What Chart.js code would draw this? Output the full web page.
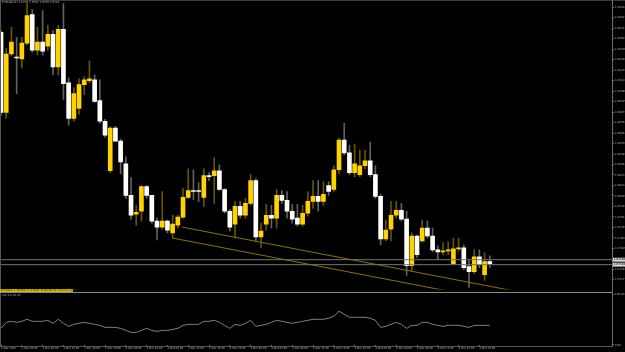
<!DOCTYPE html>
<html>
<head>
<meta charset="utf-8">
<script src="https://cdn.jsdelivr.net/npm/chart.js@4.4.1/dist/chart.umd.min.js"></script>
<style>
  html, body { margin: 0; padding: 0; background: #000; }
  body { width: 625px; height: 352px; position: relative; overflow: hidden; font-family: "DejaVu Sans", sans-serif; }
  canvas { position: absolute; left: 0; }
  #main { top: 0; }
  #ind { top: 292px; }
  .ln { position: absolute; background: #6c6c6c; }
  .txt { position: absolute; white-space: nowrap; line-height: 1; font-size: 6px; transform-origin: 0 0; }
</style>
</head>
<body>
<canvas id="main" width="625" height="292"></canvas>
<canvas id="ind" width="625" height="60"></canvas>

<div class="ln" style="left:0; top:0; width:625px; height:1px; background:#3c3c3c;"></div>
<div class="ln" style="left:0; top:0; width:1px; height:346px; background:#555;"></div>
<div class="ln" style="left:612px; top:0; width:1px; height:347px;"></div>
<div class="ln" style="left:0; top:292px; width:612px; height:1px; background:#8a8a8a;"></div>
<div class="ln" style="left:0; top:346px; width:613px; height:1px; background:#555;"></div>

<div class="txt" style="left:2px; top:1px; color:#bdbdbd; transform:scale(0.45);">EURUSD,H1 1.0736 1.0742 1.0730 1.0734</div>
<div style="position:absolute; left:0; top:289px; width:73px; height:3px; background:#d9b600;"></div>
<div class="txt" style="left:1px; top:289px; color:#3a3000; transform:scale(0.45);">Trendline 1.07710 / 1.07600 &nbsp;EURUSD H1 channel support</div>
<div class="txt" style="left:2px; top:294px; color:#a8a8a8; transform:scale(0.45);">RSI(14) 39.00</div>

<script>
// candles, one per hour
const open = [1.0968,1.0887,1.0946,1.0943,1.0941,1.0957,1.0986,1.0950,1.0958,1.0954,
  1.0966,1.0933,1.0971,1.0917,1.0881,1.0891,1.0915,1.0919,1.0920,1.0899,
  1.0878,1.0828,1.0871,1.0858,1.0835,1.0803,1.0784,1.0787,1.0812,1.0803,
  1.0777,1.0771,1.0777,1.0765,1.0773,1.0781,1.0801,1.0808,1.0808,1.0801,
  1.0823,1.0823,1.0828,1.0809,1.0787,1.0774,1.0792,1.0783,1.0795,1.0818,
  1.0761,1.0774,1.0783,1.0780,1.0803,1.0798,1.0787,1.0780,1.0774,1.0785,
  1.0797,1.0802,1.0797,1.0813,1.0809,1.0829,1.0859,1.0846,1.0826,1.0824,
  1.0833,1.0838,1.0824,1.0802,1.0759,1.0769,1.0783,1.0788,1.0779,1.0732,
  1.0762,1.0757,1.0770,1.0762,1.0748,1.0746,1.0747,1.0734,1.0749,1.0750,
  1.0731,1.0726,1.0741,1.0723,1.0736];
const close = [1.0887,1.0946,1.0958,1.0942,1.0957,1.0985,1.0950,1.0958,1.0949,1.0966,
  1.0933,1.0971,1.0916,1.0881,1.0906,1.0915,1.0920,1.0921,1.0898,1.0878,
  1.0864,1.0871,1.0858,1.0837,1.0803,1.0783,1.0786,1.0812,1.0803,1.0777,
  1.0771,1.0777,1.0768,1.0774,1.0781,1.0801,1.0808,1.0807,1.0807,1.0823,
  1.0822,1.0828,1.0809,1.0787,1.0771,1.0792,1.0783,1.0795,1.0818,1.0761,
  1.0767,1.0783,1.0780,1.0803,1.0798,1.0787,1.0779,1.0774,1.0785,1.0797,
  1.0802,1.0797,1.0804,1.0807,1.0829,1.0859,1.0846,1.0826,1.0835,1.0833,
  1.0838,1.0824,1.0802,1.0759,1.0768,1.0783,1.0788,1.0779,1.0732,1.0762,
  1.0743,1.0770,1.0762,1.0748,1.0746,1.0747,1.0748,1.0749,1.0750,1.0730,
  1.0726,1.0741,1.0733,1.0736,1.0734];
const high = [1.0970,1.0952,1.0973,1.0963,1.0963,1.0997,1.0991,1.0973,1.0990,1.0975,
  1.0970,1.0975,1.0997,1.0922,1.0912,1.0921,1.0923,1.0939,1.0925,1.0920,
  1.0880,1.0873,1.0873,1.0860,1.0842,1.0821,1.0793,1.0813,1.0813,1.0803,
  1.0780,1.0807,1.0778,1.0783,1.0783,1.0810,1.0830,1.0829,1.0816,1.0830,
  1.0826,1.0841,1.0834,1.0810,1.0789,1.0797,1.0797,1.0800,1.0824,1.0820,
  1.0775,1.0794,1.0793,1.0809,1.0808,1.0807,1.0794,1.0794,1.0793,1.0807,
  1.0818,1.0818,1.0817,1.0817,1.0833,1.0861,1.0876,1.0854,1.0855,1.0849,
  1.0849,1.0857,1.0833,1.0804,1.0778,1.0797,1.0797,1.0795,1.0787,1.0765,
  1.0763,1.0778,1.0777,1.0770,1.0752,1.0755,1.0756,1.0760,1.0760,1.0753,
  1.0737,1.0748,1.0748,1.0745,1.0742];
const low = [1.0884,1.0881,1.0944,1.0906,1.0932,1.0955,1.0948,1.0945,1.0945,1.0950,
  1.0925,1.0925,1.0900,1.0874,1.0878,1.0885,1.0905,1.0917,1.0897,1.0876,
  1.0862,1.0826,1.0858,1.0825,1.0800,1.0779,1.0773,1.0777,1.0800,1.0775,
  1.0758,1.0769,1.0765,1.0760,1.0770,1.0780,1.0800,1.0799,1.0797,1.0792,
  1.0818,1.0795,1.0808,1.0785,1.0767,1.0760,1.0780,1.0780,1.0793,1.0757,
  1.0750,1.0768,1.0770,1.0770,1.0795,1.0780,1.0775,1.0772,1.0772,1.0782,
  1.0790,1.0787,1.0793,1.0803,1.0807,1.0825,1.0844,1.0824,1.0822,1.0822,
  1.0830,1.0822,1.0800,1.0753,1.0757,1.0757,1.0780,1.0777,1.0722,1.0727,
  1.0740,1.0756,1.0760,1.0746,1.0738,1.0743,1.0743,1.0733,1.0747,1.0728,
  1.0710,1.0724,1.0730,1.0717,1.0730];

// RSI sub window
const rsi = [33,45,47,45,47,51,47,47,47,49,
  43,51,43,37,41,43,45,43,41,39,
  35,35,35,33,29,25,25,29,33,29,
  27,29,29,31,33,39,41,41,41,47,
  47,49,45,39,33,41,39,43,49,37,
  39,41,45,49,47,45,43,45,47,49,
  51,51,51,53,57,67,61,55,55,55,
  55,53,49,35,37,41,45,41,33,39,
  39,45,45,41,39,37,39,39,39,37,
  35,39,39,39,39];

// channel lines (bar index, price) and bid/ask lines
const trendUpper = [[34.8, 1.0771], [105, 1.0700]];
const trendLower = [[32.9, 1.0760], [105, 1.0687]];
const priceLines = [1.0738, 1.0733];

const priceTicks = [1.09933,1.09827,1.09721,1.09615,1.09509,1.09403,1.09297,1.09191,1.09085,
  1.08979,1.08873,1.08767,1.08661,1.08555,1.08449,1.08343,1.08237,1.08131,1.08025,
  1.07919,1.07813,1.07707,1.07601,1.07495,1.07389,1.07283,1.07177];
const rsiTicks = [100, 0];

const timeTickIdx = [0,4,8,12,16,20,24,28,32,36,40,44,48,52,56,60,64,68,72,76,80,84,88,92];
const timeLabels = ["1 Mar 2018","1 Mar 04:00","1 Mar 08:00","1 Mar 12:00","1 Mar 16:00","1 Mar 20:00",
  "2 Mar 00:00","2 Mar 04:00","2 Mar 08:00","2 Mar 12:00","2 Mar 16:00","2 Mar 20:00",
  "5 Mar 00:00","5 Mar 04:00","5 Mar 08:00","5 Mar 12:00","5 Mar 16:00","5 Mar 20:00",
  "6 Mar 00:00","6 Mar 04:00","6 Mar 08:00","6 Mar 12:00","6 Mar 16:00","6 Mar 20:00"];

const bullColor = "#ffd200";
const bearColor = "#ffffff";
const bullWick = "#665500";
const bearWick = "#626262";

const isBull = open.map((o, i) => close[i] > o);
const xMin = -0.2, xMax = 117.5;
const tickFont = { family: "DejaVu Sans", size: 2.7 };

const priceTags = {
  id: "priceTags",
  afterDraw(chart) {
    const { ctx } = chart;
    const y = chart.scales.y;
    ctx.save();
    ctx.font = '2.7px "DejaVu Sans"';
    ctx.textBaseline = "middle";
    priceLines.forEach(p => {
      const py = y.getPixelForValue(p);
      ctx.fillStyle = "#d2d2d2";
      ctx.fillRect(613, py - 2, 12, 4);
      ctx.fillStyle = "#000";
      ctx.fillText(p.toFixed(5), 614, py);
    });
    ctx.restore();
  }
};

const lineSet = (pts, color, order) => ({
  type: "line",
  data: pts.map(p => ({ x: p[0], y: p[1] })),
  borderColor: color,
  borderWidth: 1,
  pointRadius: 0,
  order: order
});

new Chart(document.getElementById("main"), {
  type: "bar",
  data: {
    datasets: [
      lineSet([[xMin, priceLines[0]], [xMax, priceLines[0]]], "#737373", 0),
      lineSet([[xMin, priceLines[1]], [xMax, priceLines[1]]], "#737373", 0),
      lineSet(trendUpper, "#8c7300", 0),
      lineSet(trendLower, "#8c7300", 0),
      {
        data: open.map((o, i) => ({ x: i, y: [o, close[i]] })),
        backgroundColor: isBull.map(b => b ? bullColor : bearColor),
        barThickness: 4,
        grouped: false,
        order: 1
      },
      {
        data: open.map((o, i) => ({ x: i, y: [low[i], high[i]] })),
        backgroundColor: isBull.map(b => b ? bullWick : bearWick),
        barThickness: 1,
        grouped: false,
        order: 2
      }
    ]
  },
  options: {
    responsive: false,
    animation: false,
    events: [],
    layout: { padding: { top: 2, left: 0, right: 0, bottom: 0 } },
    plugins: { legend: { display: false }, tooltip: { enabled: false } },
    scales: {
      x: { type: "linear", min: xMin, max: xMax, offset: false, display: false },
      y: {
        type: "linear",
        position: "right",
        min: 1.0708,
        max: 1.0998,
        afterFit: s => { s.width = 13; },
        afterBuildTicks: s => { s.ticks = priceTicks.map(v => ({ value: v })); },
        ticks: { color: "#b4b4b4", font: tickFont, padding: 1, autoSkip: false, callback: v => v.toFixed(5) },
        grid: { drawOnChartArea: false, drawTicks: true, tickLength: 2, color: "#777" },
        border: { display: false }
      }
    }
  },
  plugins: [priceTags]
});

new Chart(document.getElementById("ind"), {
  type: "line",
  data: {
    datasets: [{
      data: rsi.map((v, i) => ({ x: i, y: v })),
      borderColor: "#808080",
      borderWidth: 1,
      pointRadius: 0,
      tension: 0
    }]
  },
  options: {
    responsive: false,
    animation: false,
    events: [],
    layout: { padding: { top: 2, left: 0, right: 0, bottom: 0 } },
    plugins: { legend: { display: false }, tooltip: { enabled: false } },
    scales: {
      x: {
        type: "linear",
        min: xMin,
        max: xMax,
        afterFit: s => { s.height = 7; },
        afterBuildTicks: s => { s.ticks = timeTickIdx.map(v => ({ value: v })); },
        ticks: { color: "#b4b4b4", font: { family: "DejaVu Sans", size: 2.6 }, padding: 0, align: "start", maxRotation: 0, autoSkip: false, callback: (v, i) => timeLabels[i] },
        grid: { drawOnChartArea: false, tickLength: 2, color: "#777" },
        border: { display: false }
      },
      y: {
        type: "linear",
        position: "right",
        min: 0,
        max: 100,
        afterFit: s => { s.width = 13; },
        afterBuildTicks: s => { s.ticks = rsiTicks.map(v => ({ value: v })); },
        ticks: { color: "#b4b4b4", font: tickFont, padding: 1, callback: v => v.toFixed(2) },
        grid: { drawOnChartArea: false, tickLength: 2, color: "#777" },
        border: { display: false }
      }
    }
  }
});
</script>
</body>
</html>
